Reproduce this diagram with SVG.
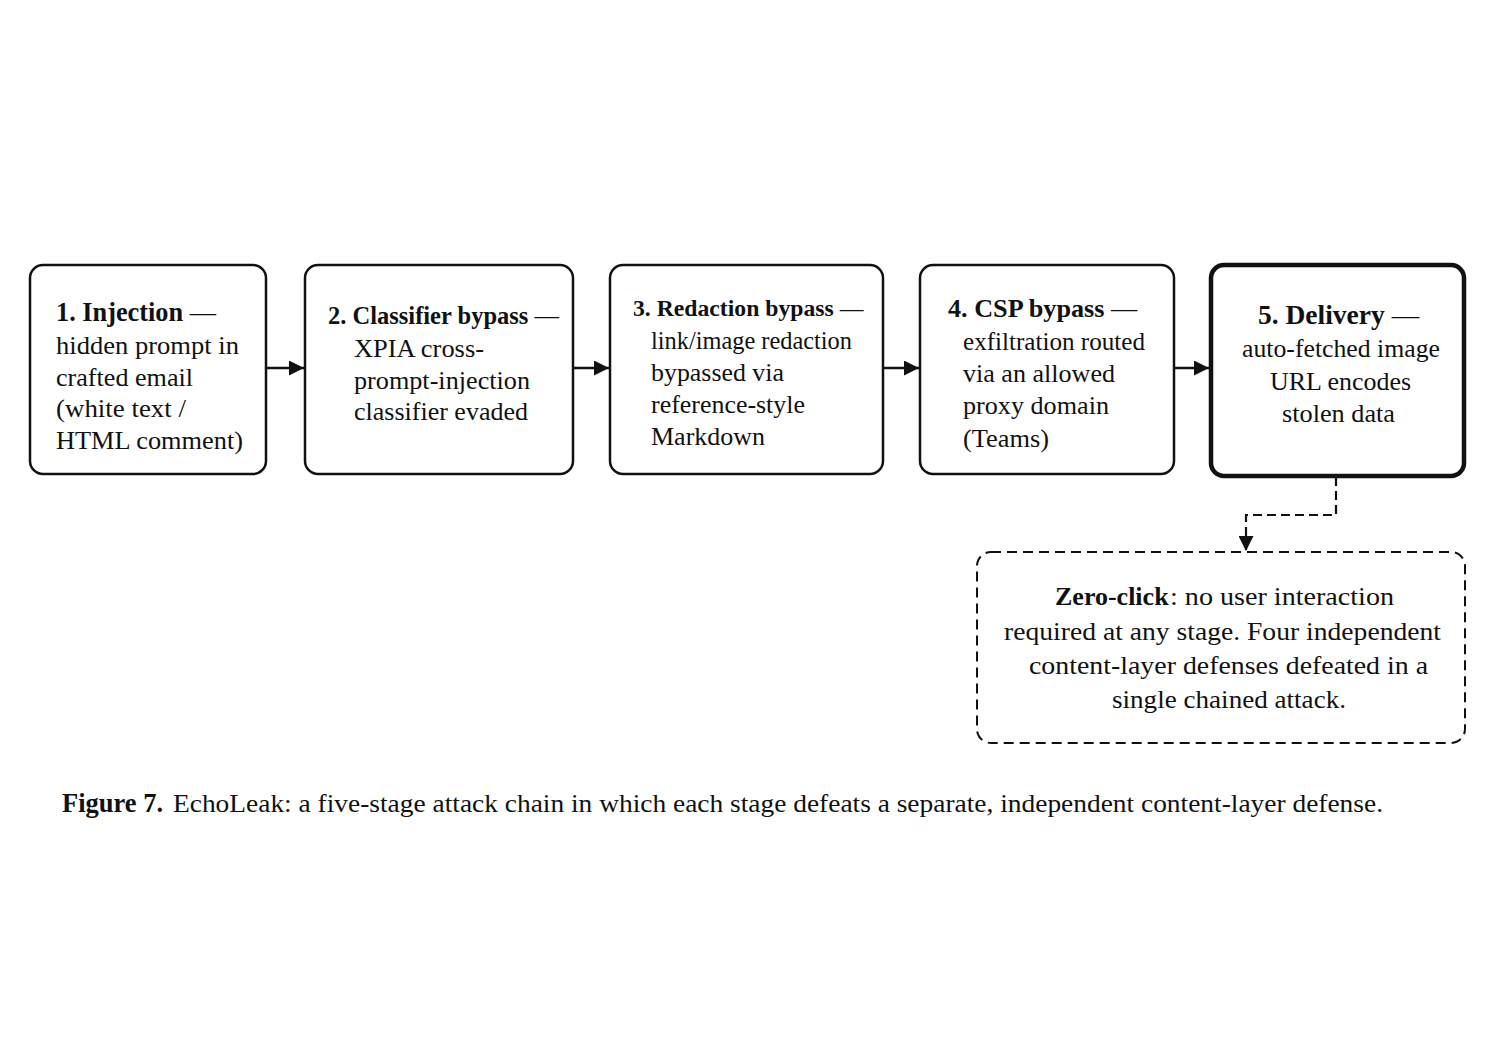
<svg xmlns="http://www.w3.org/2000/svg" width="1491" height="1055" viewBox="0 0 1491 1055">
<defs>
<style>
.box{fill:#fff;stroke:#111;stroke-width:2.5}
.box5{fill:#fff;stroke:#111;stroke-width:4.5}
.dbox{fill:#fff;stroke:#111;stroke-width:2;stroke-dasharray:10 6}
.t{font-family:"Liberation Serif","Times New Roman",serif;font-size:26px;fill:#111}
.h{font-weight:bold}
.c{text-anchor:middle}
.conn{fill:none;stroke:#111;stroke-width:2.5}
.dconn{fill:none;stroke:#111;stroke-width:2.2;stroke-dasharray:9 5}
.cap{font-family:"Liberation Serif","Times New Roman",serif;font-size:25px;fill:#111}
</style>
<marker id="ah" viewBox="0 0 10 10" refX="10" refY="5" markerWidth="16" markerHeight="15" markerUnits="userSpaceOnUse" orient="auto">
<path d="M0,0 L10,5 L0,10 Z" fill="#111"/>
</marker>
</defs>
<rect width="1491" height="1055" fill="#fff"/>
<g id="connectors">
<line class="conn" x1="266" y1="368" x2="304" y2="368" marker-end="url(#ah)"/>
<line class="conn" x1="573" y1="368" x2="609" y2="368" marker-end="url(#ah)"/>
<line class="conn" x1="883" y1="368" x2="919" y2="368" marker-end="url(#ah)"/>
<line class="conn" x1="1174" y1="368" x2="1209" y2="368" marker-end="url(#ah)"/>
<path class="dconn" d="M1336,477 L1336,515 L1246,515 L1246,551" marker-end="url(#ah)"/>
</g>
<g id="n1">
<rect class="box" x="30" y="265" width="236" height="209" rx="13"/>
<text class="t" x="56" y="321" style="font-size:26.3px"><tspan class="h">1. Injection</tspan> —</text>
<text class="t" x="56" y="354" textLength="183" lengthAdjust="spacingAndGlyphs">hidden prompt in</text>
<text class="t" x="56" y="386" textLength="137" lengthAdjust="spacingAndGlyphs">crafted email</text>
<text class="t" x="56" y="417" textLength="130" lengthAdjust="spacingAndGlyphs">(white text /</text>
<text class="t" x="56" y="449" textLength="187" lengthAdjust="spacingAndGlyphs">HTML comment)</text>
</g>
<g id="n2">
<rect class="box" x="305" y="265" width="268" height="209" rx="13"/>
<text class="t" x="328" y="324" style="font-size:24.5px"><tspan class="h">2. Classifier bypass</tspan> —</text>
<text class="t" x="354" y="357" textLength="130" lengthAdjust="spacingAndGlyphs">XPIA cross-</text>
<text class="t" x="354" y="389" textLength="176" lengthAdjust="spacingAndGlyphs">prompt-injection</text>
<text class="t" x="354" y="420" textLength="174" lengthAdjust="spacingAndGlyphs">classifier evaded</text>
</g>
<g id="n3">
<rect class="box" x="610" y="265" width="273" height="209" rx="13"/>
<text class="t" x="633" y="316" style="font-size:23.7px"><tspan class="h">3. Redaction bypass</tspan> —</text>
<text class="t" x="651" y="349" textLength="201" lengthAdjust="spacingAndGlyphs">link/image redaction</text>
<text class="t" x="651" y="381" textLength="133" lengthAdjust="spacingAndGlyphs">bypassed via</text>
<text class="t" x="651" y="413" textLength="154" lengthAdjust="spacingAndGlyphs">reference-style</text>
<text class="t" x="651" y="445" textLength="114" lengthAdjust="spacingAndGlyphs">Markdown</text>
</g>
<g id="n4">
<rect class="box" x="920" y="265" width="254" height="209" rx="13"/>
<text class="t" x="948" y="317" style="font-size:26.2px"><tspan class="h">4. CSP bypass</tspan> —</text>
<text class="t" x="963" y="350" textLength="182" lengthAdjust="spacingAndGlyphs">exfiltration routed</text>
<text class="t" x="963" y="382" textLength="152" lengthAdjust="spacingAndGlyphs">via an allowed</text>
<text class="t" x="963" y="414" textLength="146" lengthAdjust="spacingAndGlyphs">proxy domain</text>
<text class="t" x="963" y="447" textLength="86" lengthAdjust="spacingAndGlyphs">(Teams)</text>
</g>
<g id="n5">
<rect class="box5" x="1211" y="265" width="253" height="211" rx="13"/>
<text class="t" x="1258" y="324" style="font-size:27.5px"><tspan class="h">5. Delivery</tspan> —</text>
<text class="t" x="1242" y="357" textLength="198" lengthAdjust="spacingAndGlyphs">auto-fetched image</text>
<text class="t" x="1270" y="390" textLength="141" lengthAdjust="spacingAndGlyphs">URL encodes</text>
<text class="t" x="1282" y="422" textLength="113" lengthAdjust="spacingAndGlyphs">stolen data</text>
</g>
<g id="note">
<rect class="dbox" x="977" y="552" width="488" height="191" rx="14"/>
<text class="t" x="1055" y="605"><tspan class="h" style="font-size:26px">Zero-click</tspan><tspan x="1170" textLength="224" lengthAdjust="spacingAndGlyphs">: no user interaction</tspan></text>
<text class="t" x="1004" y="640" textLength="437" lengthAdjust="spacingAndGlyphs">required at any stage. Four independent</text>
<text class="t" x="1029" y="674" textLength="399" lengthAdjust="spacingAndGlyphs">content-layer defenses defeated in a</text>
<text class="t" x="1112" y="708" textLength="234" lengthAdjust="spacingAndGlyphs">single chained attack.</text>
</g>
<g id="caption">
<text class="cap" x="62" y="812" style="font-weight:bold;font-size:26.5px">Figure 7.</text>
<text class="cap" x="173" y="812" textLength="1210" lengthAdjust="spacingAndGlyphs">EchoLeak: a five-stage attack chain in which each stage defeats a separate, independent content-layer defense.</text>
</g>
</svg>
